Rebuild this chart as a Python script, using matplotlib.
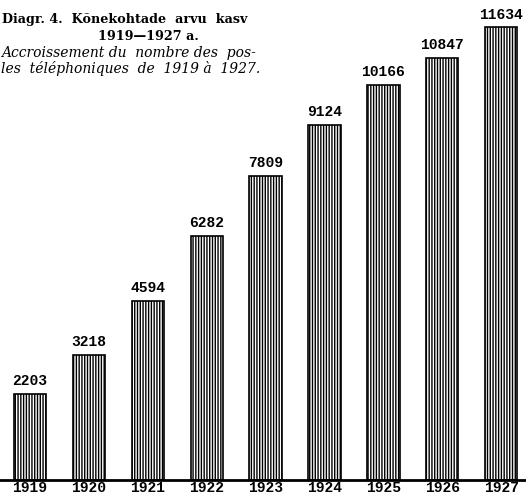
import matplotlib
matplotlib.use("Agg")
import matplotlib.pyplot as plt

years = ["1919", "1920", "1921", "1922", "1923", "1924", "1925", "1926", "1927"]
values = [2203, 3218, 4594, 6282, 7809, 9124, 10166, 10847, 11634]

W, H = 526, 499
fig = plt.figure(figsize=(W / 100, H / 100), dpi=100)
fig.patch.set_facecolor("white")

base_px = 19  # baseline from bottom in px
ax = fig.add_axes([0, base_px / H, 1, 1 - base_px / H])
pitch = 58.9
c0 = 30
ax.set_xlim(-c0 / pitch, (W - c0) / pitch)
ax.set_ylim(0, (H - base_px) / 0.0389)

plt.rcParams["hatch.linewidth"] = 1.0
x = list(range(len(years)))
ax.bar(x, values, width=0.55, facecolor="white", edgecolor="black",
       hatch="||||||", linewidth=1.2)
for xi, v in zip(x, values):
    ax.text(xi, v + 150, str(v), ha="center", va="bottom",
            fontfamily="Liberation Mono", fontweight="bold", fontsize=10.5)

ax.axhline(0, color="black", linewidth=2, clip_on=False)
for s in ax.spines.values():
    s.set_visible(False)
ax.set_yticks([])
ax.set_xticks(x)
ax.set_xticklabels(years, fontfamily="Liberation Mono", fontweight="bold", fontsize=10.5)
ax.tick_params(axis="x", length=0, pad=1)

tf = dict(fontfamily="DejaVu Serif", fontweight="bold", fontsize=9.2, color="black")
fig.text(2 / W, 1 - 20 / H, "Diagr. 4.  Kõnekohtade  arvu  kasv", ha="left", va="center", **tf)
fig.text(148 / W, 1 - 37 / H, "1919—1927 a.", ha="center", va="center", **tf)
itf = dict(fontfamily="DejaVu Serif", fontstyle="italic", fontsize=10, color="black")
fig.text(1 / W, 1 - 53 / H, "Accroissement du  nombre des  pos-", ha="left", va="center", **itf)
fig.text(1 / W, 1 - 69 / H, "les  téléphoniques  de  1919 à  1927.", ha="left", va="center", **itf)

fig.savefig("out.png", dpi=100)
